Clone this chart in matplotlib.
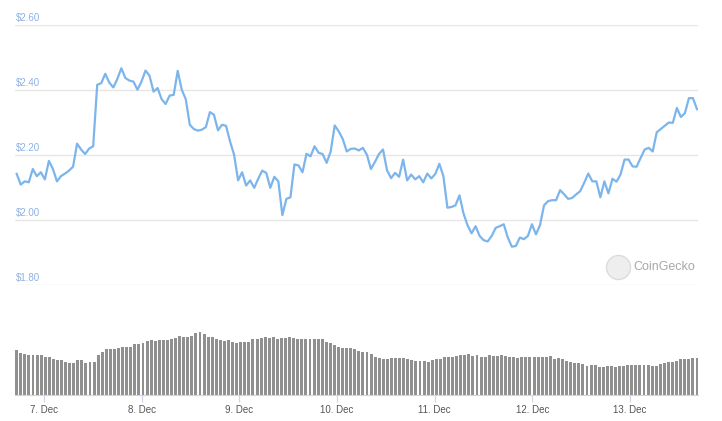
import numpy as np
import pandas as pd
import matplotlib
matplotlib.use('Agg')
import matplotlib.pyplot as plt
import matplotlib.dates as mdates

# hourly price, USD
prices = [2.141, 2.108, 2.118, 2.115, 2.156, 2.134, 2.146, 2.124, 2.181, 2.156,
          2.118, 2.134, 2.142, 2.151, 2.163, 2.234, 2.216, 2.202, 2.219, 2.226,
          2.415, 2.420, 2.449, 2.422, 2.407, 2.433, 2.466, 2.436, 2.428, 2.425,
          2.400, 2.425, 2.459, 2.443, 2.394, 2.405, 2.371, 2.356, 2.382, 2.384,
          2.458, 2.400, 2.371, 2.292, 2.279, 2.274, 2.277, 2.285, 2.331, 2.323,
          2.275, 2.292, 2.289, 2.241, 2.200, 2.121, 2.146, 2.105, 2.121, 2.098,
          2.126, 2.151, 2.144, 2.098, 2.132, 2.118, 2.014, 2.064, 2.069, 2.170,
          2.167, 2.146, 2.203, 2.195, 2.226, 2.206, 2.202, 2.175, 2.210, 2.290,
          2.272, 2.248, 2.210, 2.218, 2.219, 2.213, 2.221, 2.200, 2.156, 2.178,
          2.202, 2.216, 2.152, 2.128, 2.144, 2.132, 2.185, 2.121, 2.139, 2.124,
          2.134, 2.115, 2.142, 2.127, 2.141, 2.172, 2.134, 2.037, 2.039, 2.044,
          2.075, 2.019, 1.983, 1.958, 1.980, 1.950, 1.937, 1.933, 1.950, 1.975,
          1.980, 1.986, 1.945, 1.917, 1.919, 1.945, 1.940, 1.950, 1.986, 1.955,
          1.983, 2.044, 2.057, 2.060, 2.060, 2.091, 2.078, 2.064, 2.067, 2.078,
          2.088, 2.114, 2.142, 2.118, 2.118, 2.069, 2.118, 2.081, 2.126, 2.117,
          2.139, 2.185, 2.185, 2.164, 2.163, 2.190, 2.216, 2.221, 2.210, 2.269,
          2.279, 2.289, 2.299, 2.298, 2.344, 2.316, 2.328, 2.374, 2.374, 2.340]

# hourly volume (relative)
volumes = [45.0, 42.3, 41.0, 40.0, 40.0, 40.0, 40.0, 38.3, 37.7, 35.7,
           35.0, 35.0, 33.3, 32.3, 32.3, 35.0, 35.0, 32.3, 33.0, 33.0,
           40.0, 43.3, 45.7, 45.7, 45.7, 46.7, 47.7, 48.3, 48.3, 51.0,
           51.0, 52.3, 54.3, 55.0, 54.3, 55.0, 55.0, 55.0, 55.7, 56.7,
           59.0, 57.7, 57.7, 59.0, 62.3, 63.3, 61.0, 57.7, 57.7, 55.7,
           55.0, 54.3, 55.0, 53.3, 51.7, 53.3, 53.3, 53.3, 56.3, 56.3,
           57.0, 57.7, 57.0, 57.7, 56.3, 57.0, 57.0, 57.7, 57.0, 55.7,
           56.3, 56.3, 56.3, 55.7, 55.7, 56.3, 53.3, 51.7, 50.0, 48.3,
           46.7, 46.7, 46.7, 45.7, 44.3, 43.3, 43.3, 41.0, 37.7, 36.7,
           35.7, 35.7, 36.7, 36.7, 36.7, 36.7, 35.7, 35.0, 34.0, 34.0,
           34.0, 33.3, 35.0, 35.7, 35.7, 37.7, 37.7, 38.3, 39.0, 40.0,
           40.0, 41.0, 39.0, 40.0, 37.7, 37.7, 40.0, 39.0, 39.0, 40.0,
           39.0, 38.3, 38.3, 36.7, 37.7, 37.7, 38.3, 37.7, 37.7, 38.3,
           37.7, 39.0, 35.7, 36.7, 35.7, 34.3, 33.3, 31.7, 31.7, 31.0,
           29.0, 29.7, 30.0, 28.3, 28.3, 29.0, 29.0, 28.3, 29.0, 29.0,
           29.7, 30.0, 30.0, 30.0, 29.7, 29.7, 29.0, 29.0, 31.0, 32.3,
           33.0, 33.0, 34.3, 35.7, 35.7, 35.7, 36.7, 36.7]

price_ticks = [1.80, 2.00, 2.20, 2.40, 2.60]
date_ticks = pd.date_range('2020-12-07', '2020-12-13', freq='D')
date_labels = [f'{d.day}. Dec' for d in date_ticks]

price_times = pd.date_range('2020-12-06 17:15', '2020-12-13 16:30', periods=len(prices))
vol_times = pd.date_range('2020-12-06 17:15', '2020-12-13 16:30', periods=len(volumes))
x_left = pd.Timestamp('2020-12-06 16:50')
x_right = pd.Timestamp('2020-12-13 16:45')

plt.rcParams['font.family'] = ['Liberation Sans', 'DejaVu Sans']

W, H = 722, 421
fig = plt.figure(figsize=(W / 100, H / 100), dpi=100)

# price panel
ax = fig.add_axes([15 / W, 1 - 284.7 / H, 683 / W, 260 / H])
ax.plot(price_times, prices, color='#7cb5ec', lw=1.6, solid_joinstyle='round')
ax.set_ylim(1.80, 2.60)
ax.set_xlim(x_left, x_right)
ax.set_yticks(price_ticks)
ax.grid(axis='y', color='#e6e6e6', lw=1)
ax.tick_params(left=False, bottom=False, labelleft=False, labelbottom=False)
for s in ax.spines.values():
    s.set_visible(False)
for v in price_ticks:
    ax.text(0.002, v + 0.006, f'${v:.2f}', transform=ax.get_yaxis_transform(),
            color='#8fb1e6', fontsize=7, va='bottom', ha='left')

# watermark
ax.scatter([0.883], [0.067], s=300, color='#eeeeee', edgecolors='#dcdcdc',
           linewidths=1, transform=ax.transAxes, clip_on=False, zorder=1)
ax.text(0.905, 0.067, 'CoinGecko', transform=ax.transAxes, color='#a8a8a8',
        fontsize=9, va='center', ha='left')

# volume panel
vax = fig.add_axes([15 / W, 1 - 395 / H, 683 / W, 95 / H])
step = mdates.date2num(vol_times[1]) - mdates.date2num(vol_times[0])
vax.bar(vol_times, volumes, width=step * 0.72, color='#909090', align='center')
vax.set_ylim(0, 95)
vax.set_xlim(x_left, x_right)
vax.set_xticks(date_ticks)
vax.set_xticklabels(date_labels)
vax.tick_params(axis='x', length=5, color='#ccd6eb', labelcolor='#555555',
                labelsize=7, pad=2)
vax.tick_params(axis='y', left=False, labelleft=False)
for k in ['top', 'left', 'right']:
    vax.spines[k].set_visible(False)
vax.spines['bottom'].set_color('#ccd6eb')

fig.savefig('out.png', dpi=100)
